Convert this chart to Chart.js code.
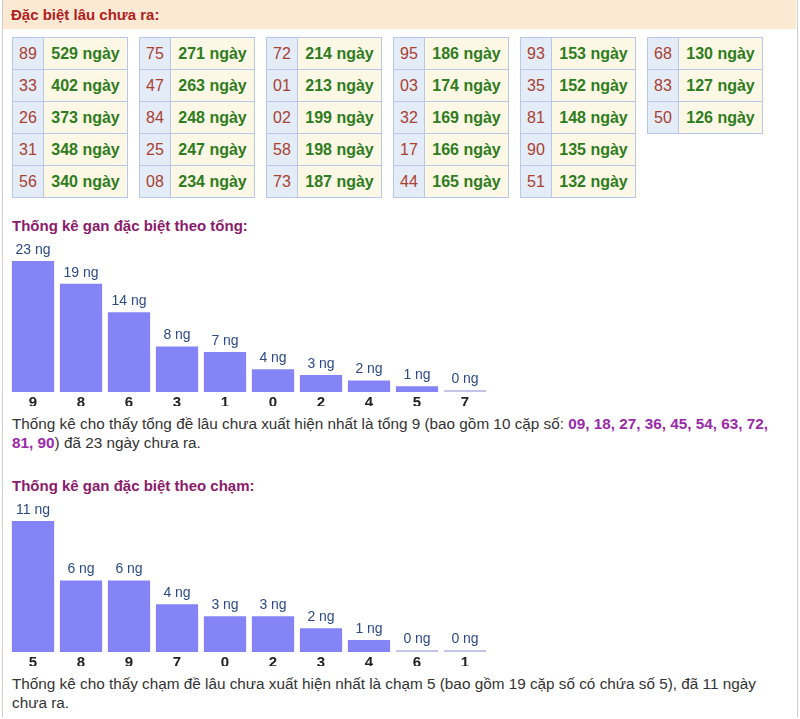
<!DOCTYPE html>
<html><head><meta charset="utf-8">
<script src="https://cdn.jsdelivr.net/npm/chart.js@4/dist/chart.umd.min.js"></script>
<style>
body{margin:0;width:800px;height:719px;background:#fff;font-family:Arial,"Liberation Sans",sans-serif;position:relative;overflow:hidden}
.frame{position:absolute;left:2px;top:0;width:794px;height:717px;border-left:1px solid #ccc;border-right:1px solid #ccc}
.hdr{position:absolute;left:3px;top:0;width:793px;height:29px;background:#fce9d3;color:#b02020;font-weight:bold;font-size:15px;line-height:29px;padding-left:8px;box-sizing:border-box}
table{position:absolute;border-collapse:collapse;font-size:16px;font-weight:bold}
td{border:1px solid #b8c8e8;height:31px;padding:0}
td.k{background:#e4ecf8;color:#a84030;width:30px;text-align:center;font-weight:normal}
td.v{background:#fdf7e6;color:#2e7d20;width:83px;text-align:center}
.ttl{position:absolute;left:12px;color:#8a1b6a;font-weight:bold;font-size:15px}
.p{position:absolute;left:12px;width:780px;font-size:15.3px;color:#333;line-height:19px}
.p b{color:#9a2aa8}
canvas{position:absolute}
</style></head><body>
<div class="frame"></div>
<div class="hdr">Đặc biệt lâu chưa ra:</div>
<div id="tables"></div>
<div class="ttl" style="top:217px">Thống kê gan đặc biệt theo tổng:</div>
<div style="position:absolute;left:9px;top:240px;width:480px;height:166px"><canvas id="c1"></canvas></div>
<div class="p" style="top:414px">Thống kê cho thấy tổng đề lâu chưa xuất hiện nhất là tổng 9 (bao gồm 10 cặp số: <b>09, 18, 27, 36, 45, 54, 63, 72, 81, 90</b>) đã 23 ngày chưa ra.</div>
<div class="ttl" style="top:477px">Thống kê gan đặc biệt theo chạm:</div>
<div style="position:absolute;left:9px;top:500px;width:480px;height:166px"><canvas id="c2"></canvas></div>
<div class="p" style="top:674px">Thống kê cho thấy chạm đề lâu chưa xuất hiện nhất là chạm 5 (bao gồm 19 cặp số có chứa số 5), đã 11 ngày chưa ra.</div>
<script>
const gapNumbers=[["89","33","26","31","56"],["75","47","84","25","08"],["72","01","02","58","73"],["95","03","32","17","44"],["93","35","81","90","51"],["68","83","50"]];
const gapDays=[[529,402,373,348,340],[271,263,248,247,234],[214,213,199,198,187],[186,174,169,166,165],[153,152,148,135,132],[130,127,126]];
const sumLabels=["9","8","6","3","1","0","2","4","5","7"];
const sumValues=[23,19,14,8,7,4,3,2,1,0];
const touchLabels=["5","8","9","7","0","2","3","4","6","1"];
const touchValues=[11,6,6,4,3,3,2,1,0,0];

let html="";
gapNumbers.forEach((col,i)=>{
  html+=`<table style="left:${12+i*127}px;top:37px">`;
  col.forEach((n,j)=>{html+=`<tr><td class="k">${n}</td><td class="v">${gapDays[i][j]} ngày</td></tr>`;});
  html+="</table>";
});
document.getElementById("tables").innerHTML=html;

const labelPlugin={id:"lbl",afterDatasetsDraw(ch){
  const ctx=ch.ctx;ctx.save();ctx.fillStyle="#2c4a86";ctx.font="14px Arial";ctx.textAlign="center";ctx.textBaseline="bottom";
  ch.getDatasetMeta(0).data.forEach((b,i)=>{ctx.fillText(ch.data.datasets[0].data[i]+" ng",b.x,b.y-4);});
  ctx.restore();}};
function make(id,labels,vals){
  const mx=Math.max(...vals);
  new Chart(document.getElementById(id),{type:"bar",
    data:{labels,datasets:[{data:vals,backgroundColor:vals.map(v=>v===0?"#c4c4e8":"#8484f6"),minBarLength:2,categoryPercentage:1,barPercentage:0.88}]},
    options:{responsive:true,maintainAspectRatio:false,animation:false,
      layout:{padding:{left:0,right:0,top:0,bottom:0}},
      plugins:{legend:{display:false},tooltip:{enabled:false}},
      scales:{y:{display:false,min:0,max:mx*1.16},
        x:{grid:{display:false},border:{display:false},ticks:{color:"#222",font:{size:15,weight:"bold",family:"Arial"},padding:-6}}}},
    plugins:[labelPlugin]});
}
make("c1",sumLabels,sumValues);
make("c2",touchLabels,touchValues);
</script>
</body></html>
